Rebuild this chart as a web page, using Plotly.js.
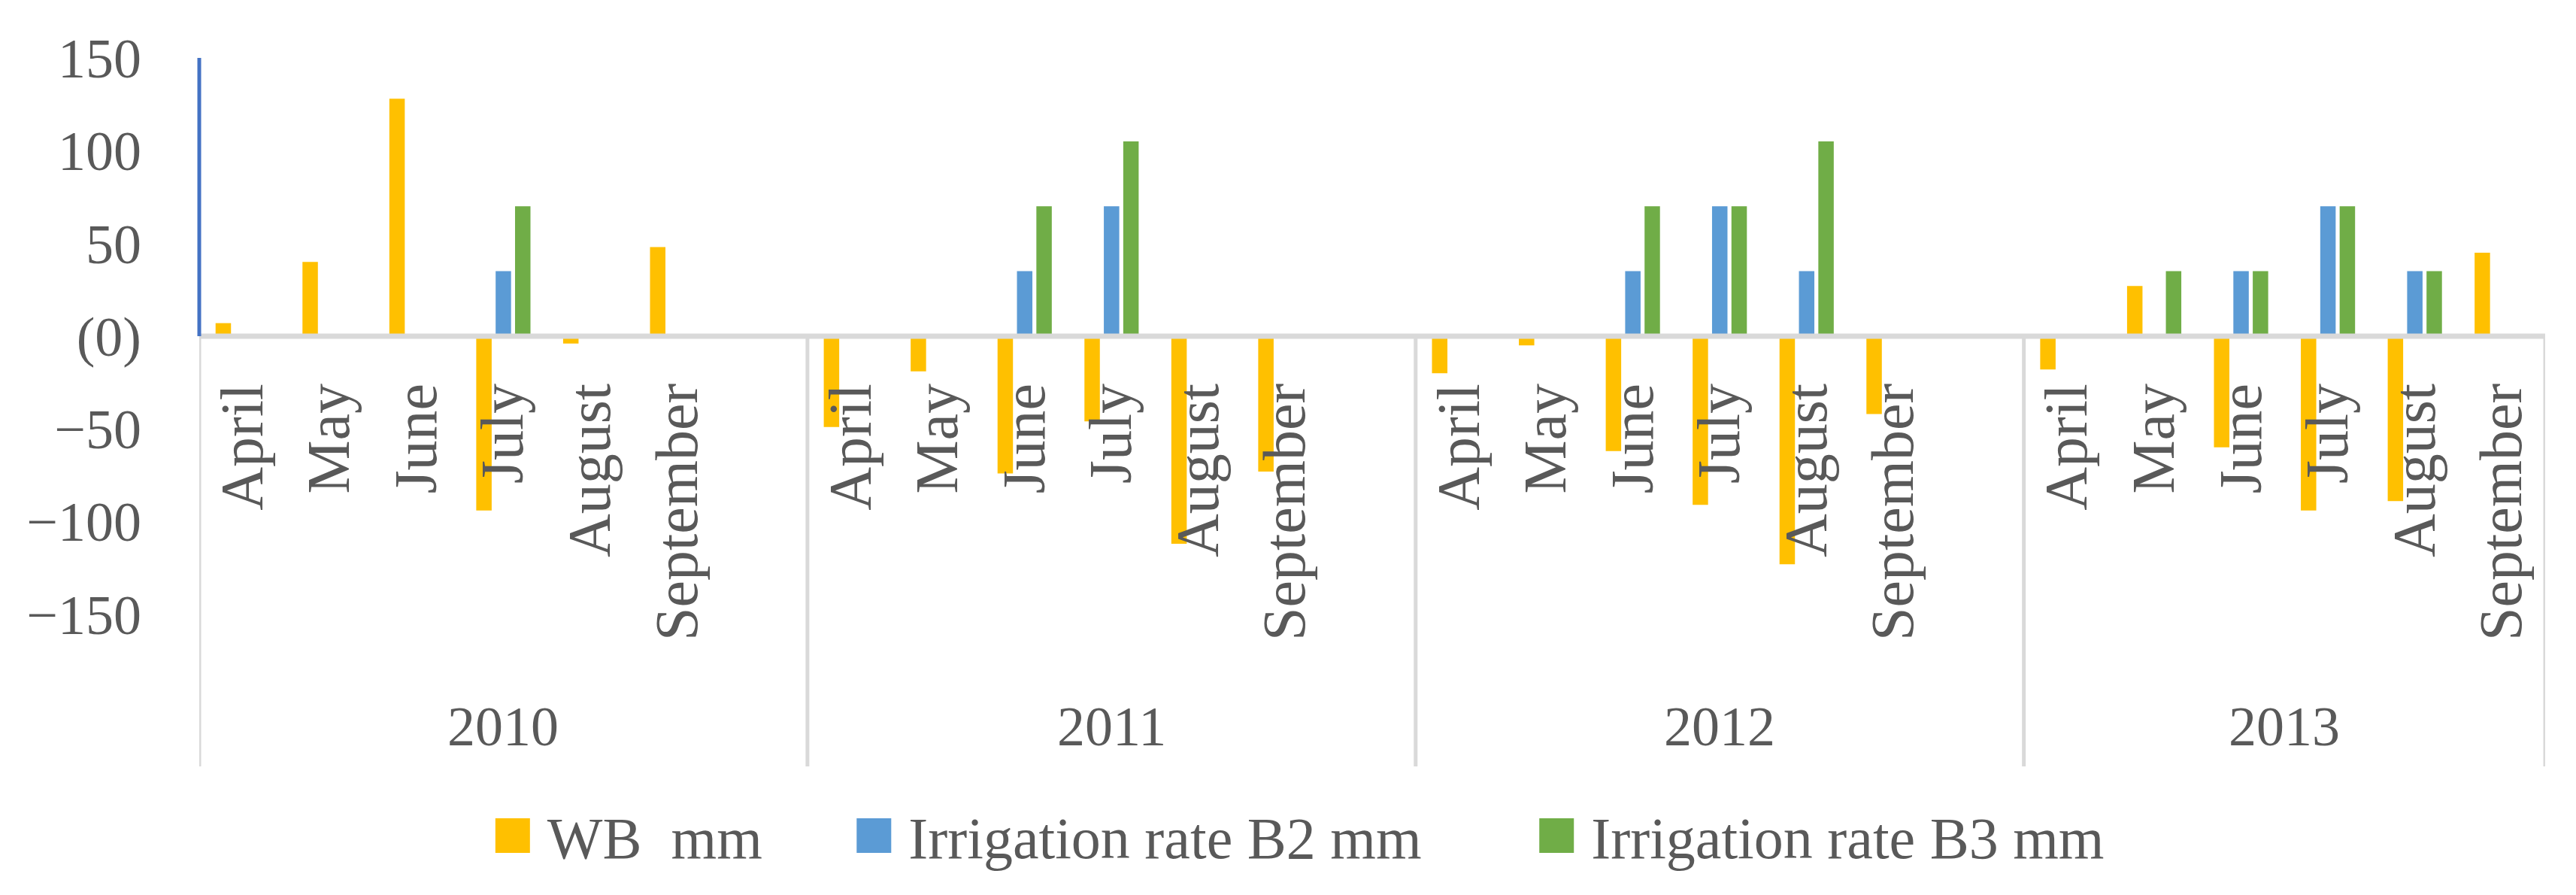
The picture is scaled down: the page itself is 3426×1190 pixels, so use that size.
<!DOCTYPE html>
<html><head><meta charset="utf-8">
<script src="https://cdn.plot.ly/plotly-3.0.1.min.js"></script>
<style>html,body{margin:0;padding:0;background:#fff;}#chart{width:3426px;height:1190px;}</style>
</head><body><div id="chart"></div>
<script>
// ---- data ----
const years = ['2010', '2011', '2012', '2013'];
const months = ['April', 'May', 'June', 'July', 'August', 'September'];
const yTickVals = [-150, -100, -50, 0, 50, 100, 150];
const yTickText = ['\u2212150', '\u2212100', '\u221250', '(0)', '50', '100', '150'];
const seriesNames = ['WB\u00A0 mm', 'Irrigation rate B2 mm', 'Irrigation rate B3 mm'];

const wb2010 = [7, 40, 128, -94, -4, 48];
const wb2011 = [-49, -19, -74, -46, -112, -73];
const wb2012 = [-20, -5, -62, -91, -123, -42];
const wb2013 = [-18, 27, -60, -94, -89, 45];

const b2_2010 = [null, null, null, 35, null, null];
const b2_2011 = [null, null, 35, 70, null, null];
const b2_2012 = [null, null, 35, 70, 35, null];
const b2_2013 = [null, null, 35, 70, 35, null];

const b3_2010 = [null, null, null, 70, null, null];
const b3_2011 = [null, null, 70, 105, null, null];
const b3_2012 = [null, null, 70, 70, 105, null];
const b3_2013 = [null, 35, 35, 70, 35, null];

// ---- build category axis (an empty slot follows each of the first three years) ----
const cats = [], tickVals = [], tickText = [];
const wbAll = [], b2All = [], b3All = [];
const wbY = [wb2010, wb2011, wb2012, wb2013];
const b2Y = [b2_2010, b2_2011, b2_2012, b2_2013];
const b3Y = [b3_2010, b3_2011, b3_2012, b3_2013];
const groupCenters = [];
years.forEach((yr, yi) => {
  const start = cats.length;
  months.forEach((m, mi) => {
    const key = yr + ' ' + m;
    cats.push(key); tickVals.push(key); tickText.push(m);
    wbAll.push(wbY[yi][mi]); b2All.push(b2Y[yi][mi]); b3All.push(b3Y[yi][mi]);
  });
  if (yi < years.length - 1) {
    cats.push(yr + ' gap');
    wbAll.push(null); b2All.push(null); b3All.push(null);
  }
  groupCenters.push((start - 0.5 + cats.length - 0.5) / 2);
});
const nCat = cats.length;
const yMin = -232, yMax = 150;

const colors = ['#FFC000', '#5B9BD5', '#70AD47'];
const vals = [wbAll, b2All, b3All];
const legends = ['legend', 'legend2', 'legend3'];
const traces = vals.map((v, i) => ({
  type: 'bar', x: cats, y: v, name: seriesNames[i],
  marker: {color: colors[i]}, legend: legends[i], hoverinfo: 'skip'
}));

const gray = '#D9D9D9', txt = '#595959';
const font = 'Liberation Serif, Times New Roman, serif';

// separators & axis lines
const shapes = [];
const bounds = [-0.5];
let c = 0;
years.forEach((yr, yi) => { c += (yi < years.length - 1) ? 7 : 6; bounds.push(c - 0.5); });
bounds.forEach(b => shapes.push({type: 'line', xref: 'x', yref: 'y', x0: b, x1: b, y0: 0, y1: yMin,
  line: {color: gray, width: 5}}));
shapes.push({type: 'line', xref: 'x', yref: 'y', x0: -0.5, x1: nCat - 0.5, y0: 0, y1: 0,
  line: {color: gray, width: 7}});
shapes.push({type: 'line', xref: 'paper', yref: 'y', x0: 0, x1: 0, y0: 0, y1: yMax,
  line: {color: '#4472C4', width: 5}});

const annotations = years.map((yr, i) => ({
  xref: 'x', yref: 'paper', x: groupCenters[i], y: 0.0563, text: yr, showarrow: false,
  xanchor: 'center', yanchor: 'middle', font: {family: font, size: 74, color: txt}
}));

const legFont = {family: font, size: 78, color: txt};
const legBase = {orientation: 'h', xanchor: 'left', y: -0.098, yanchor: 'middle', font: legFont,
  bgcolor: 'rgba(0,0,0,0)', itemwidth: 70};
const layout = {
  width: 3426, height: 1190,
  margin: {l: 265, r: 41, t: 77, b: 171},
  paper_bgcolor: '#fff', plot_bgcolor: '#fff',
  barmode: 'group', bargap: 0.33, bargroupgap: 0.205,
  xaxis: {type: 'category', categoryorder: 'array', categoryarray: cats,
    range: [-0.5, nCat - 0.5], anchor: 'free', position: (0 - yMin) / (yMax - yMin),
    tickmode: 'array', tickvals: tickVals, ticktext: tickText, tickangle: -90,
    ticks: '', showline: false, showgrid: false, zeroline: false,
    ticklabelstandoff: 46, tickfont: {family: font, size: 80, color: txt}},
  yaxis: {range: [yMin, yMax], tickmode: 'array', tickvals: yTickVals, ticktext: yTickText,
    showgrid: false, zeroline: false, showline: false, ticks: '', ticklabelstandoff: 76,
    tickfont: {family: font, size: 74, color: txt}},
  showlegend: true,
  legend: Object.assign({}, legBase, {x: 0.1227}),
  legend2: Object.assign({}, legBase, {x: 0.2767}),
  legend3: Object.assign({}, legBase, {x: 0.5677}),
  shapes: shapes, annotations: annotations
};

const HALF = 23;
const SQ = 'M' + HALF + ',' + HALF + 'H-' + HALF + 'V-' + HALF + 'H' + HALF + 'Z';
function fixSwatches() {
  // enlarge legend swatches to the reference's square size
  document.querySelectorAll('#chart g.legendpoints').forEach(lp => {
    const item = lp.closest('g.traces') || lp.parentNode;
    const t = item ? item.querySelector('text.legendtext') : null;
    const tx = t ? (parseFloat(t.getAttribute('x')) || 80) : 80;
    const tr = 'translate(' + (tx - 23 - HALF) + ',0)';
    lp.querySelectorAll('path').forEach(p => {
      if (p.getAttribute('d') !== SQ) p.setAttribute('d', SQ);
      if (p.getAttribute('transform') !== tr) p.setAttribute('transform', tr);
    });
  });
}
const gd = document.getElementById('chart');
new MutationObserver(fixSwatches).observe(gd, {childList: true, subtree: true, attributes: true, attributeFilter: ['d', 'transform']});
Plotly.newPlot(gd, traces, layout, {displayModeBar: false, staticPlot: true}).then(() => {
  fixSwatches();
  gd.on('plotly_afterplot', fixSwatches);
  let n = 0;
  const iv = setInterval(() => { fixSwatches(); if (++n > 40) clearInterval(iv); }, 50);
});
</script>
</body></html>
